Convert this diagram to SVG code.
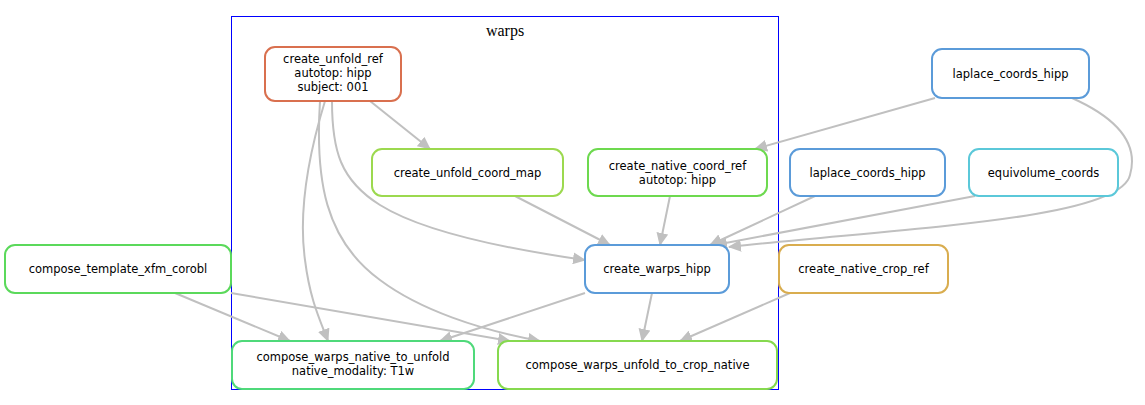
<svg xmlns="http://www.w3.org/2000/svg" width="1145" height="405" viewBox="0 0 1145 405">
<style>
.n rect{fill:#fff;stroke-width:2}
.n text{font-family:"DejaVu Sans",sans-serif;font-size:11.5px;text-anchor:middle;fill:#000}
.e path{fill:none;stroke:#c0c0c0;stroke-width:2;marker-end:url(#a)}
</style>
<defs><marker id="a" markerUnits="userSpaceOnUse" markerWidth="14" markerHeight="12" refX="12" refY="6" orient="auto"><path d="M0,0 L13,6 L0,12 Z" fill="#c0c0c0"/></marker></defs>
<rect width="1145" height="405" fill="#fff"/>
<g id="cluster_warps"><rect x="231.5" y="16.5" width="547" height="373" fill="none" stroke="#0000ff"/><text x="505" y="36" font-family="Liberation Serif,serif" font-size="16" text-anchor="middle">warps</text></g>
<g class="e" id="edges">
<path d="M370,101 L430,149"/>
<path d="M332,101 C332,150 340,180 380,205 C420,230 500,248 585,260"/>
<path d="M325,101 C310,150 298,210 305,260 C310,300 320,320 328,341"/>
<path d="M320,101 C315,180 325,240 380,280 C420,310 480,330 540,341"/>
<path d="M515,196 L610,245"/>
<path d="M670,196 L660,245"/>
<path d="M935,98 L755,149"/>
<path d="M1072,98 C1110,115 1140,140 1130,175 C1120,220 900,228 729,247"/>
<path d="M815,196 L710,245"/>
<path d="M975,196 L715,245"/>
<path d="M585,293 L440,341"/>
<path d="M652,293 L642,341"/>
<path d="M790,293 L680,341"/>
<path d="M175,293 L290,341"/>
<path d="M231,293 L510,341"/>
</g>
<g class="n" id="create_unfold_ref"><rect x="265" y="47" width="136" height="54" rx="10" stroke="#d9704f"/><text x="333" y="63">create_unfold_ref</text><text x="333" y="77">autotop: hipp</text><text x="333" y="91">subject: 001</text></g>
<g class="n" id="create_unfold_coord_map"><rect x="372" y="149" width="191" height="47" rx="10" stroke="#9cd94f"/><text x="467.5" y="177">create_unfold_coord_map</text></g>
<g class="n" id="create_native_coord_ref"><rect x="588" y="149" width="179" height="47" rx="10" stroke="#6dd94f"/><text x="677.5" y="170">create_native_coord_ref</text><text x="677.5" y="184">autotop: hipp</text></g>
<g class="n" id="laplace_coords_hipp_1"><rect x="932" y="49" width="157" height="49" rx="10" stroke="#5b9bd9"/><text x="1010.5" y="78">laplace_coords_hipp</text></g>
<g class="n" id="laplace_coords_hipp_2"><rect x="790" y="149" width="155" height="47" rx="10" stroke="#5b9bd9"/><text x="867.5" y="177">laplace_coords_hipp</text></g>
<g class="n" id="equivolume_coords"><rect x="969" y="149" width="149" height="47" rx="10" stroke="#5bc8d9"/><text x="1043.5" y="177">equivolume_coords</text></g>
<g class="n" id="create_warps_hipp"><rect x="585" y="245" width="144" height="48" rx="10" stroke="#5b9bd9"/><text x="657" y="273">create_warps_hipp</text></g>
<g class="n" id="create_native_crop_ref"><rect x="779" y="245" width="169" height="48" rx="10" stroke="#d9ad4f"/><text x="863.5" y="273">create_native_crop_ref</text></g>
<g class="n" id="compose_template_xfm_corobl"><rect x="5" y="245" width="226" height="48" rx="10" stroke="#5bd95b"/><text x="118" y="273">compose_template_xfm_corobl</text></g>
<g class="n" id="compose_warps_native_to_unfold"><rect x="232" y="341" width="242" height="48" rx="10" stroke="#4fd97a"/><text x="353" y="361">compose_warps_native_to_unfold</text><text x="353" y="375">native_modality: T1w</text></g>
<g class="n" id="compose_warps_unfold_to_crop_native"><rect x="498" y="341" width="279" height="48" rx="10" stroke="#86d94f"/><text x="637.5" y="369">compose_warps_unfold_to_crop_native</text></g>
</svg>
